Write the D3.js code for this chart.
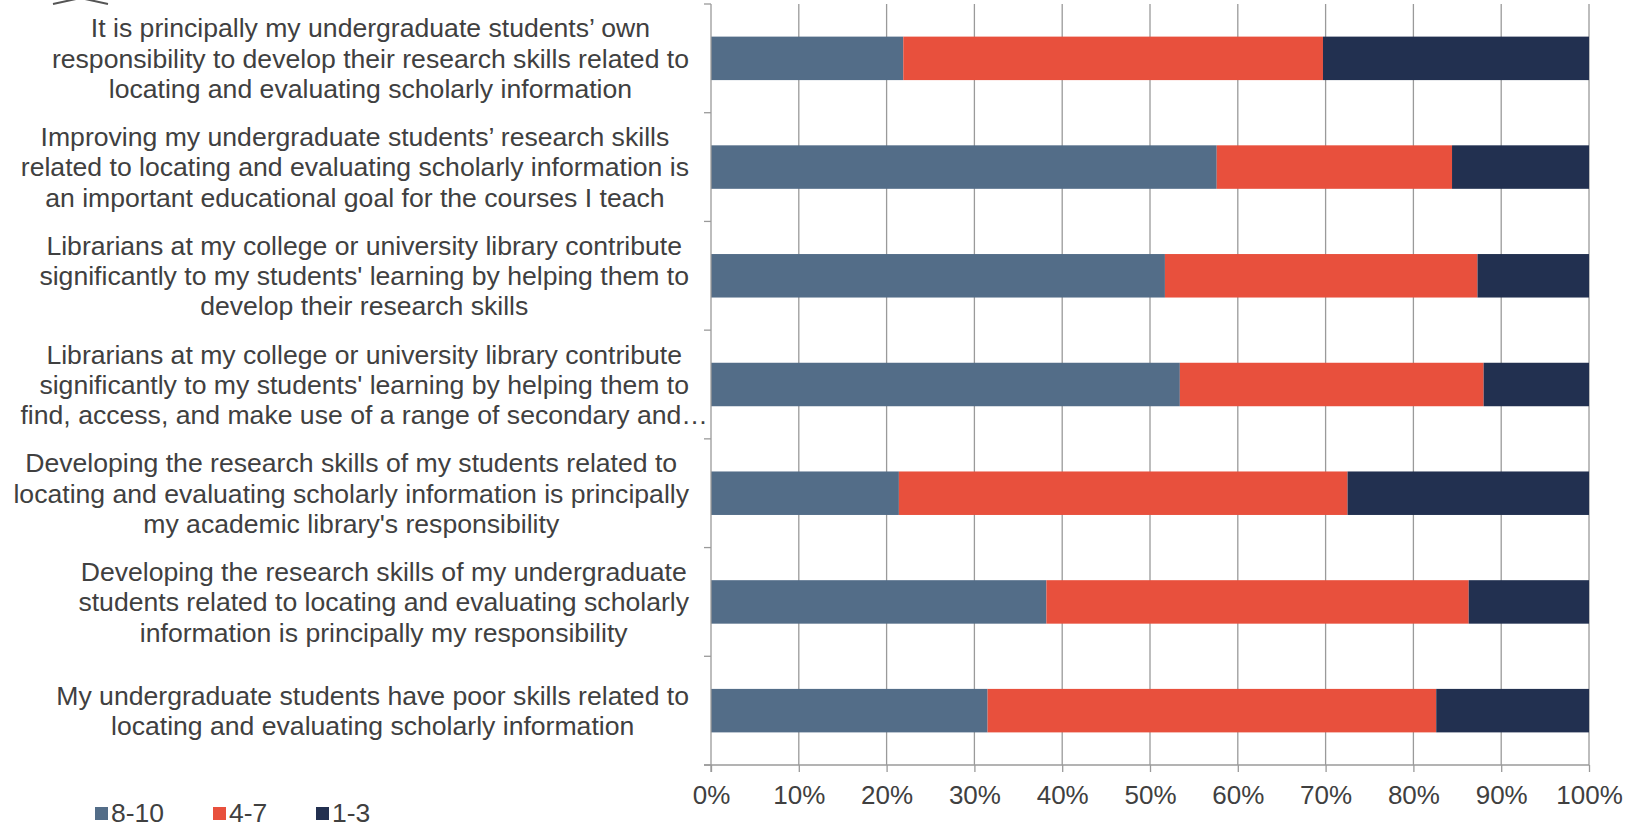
<!DOCTYPE html>
<meta charset="utf-8">
<script src="https://d3js.org/d3.v7.min.js"></script>
<style>
  body { margin: 0; background: #fff; }
  text { font-family: "Liberation Sans", Arial, sans-serif; fill: #404040; }
</style>
<div id="my_dataviz"></div>
<script>
// statements, each one wrapped into lines as in the original chart
var statements = [
  ["It is principally my undergraduate students\u2019 own",
   "responsibility to develop their research skills related to",
   "locating and evaluating scholarly information"],
  ["Improving my undergraduate students\u2019 research skills",
   "related to locating and evaluating scholarly information is",
   "an important educational goal for the courses I teach"],
  ["Librarians at my college or university library contribute",
   "significantly to my students' learning by helping them to",
   "develop their research skills"],
  ["Librarians at my college or university library contribute",
   "significantly to my students' learning by helping them to",
   "find, access, and make use of a range of secondary and\u2026"],
  ["Developing the research skills of my students related to",
   "locating and evaluating scholarly information is principally",
   "my academic library's responsibility"],
  ["Developing the research skills of my undergraduate",
   "students related to locating and evaluating scholarly",
   "information is principally my responsibility"],
  ["My undergraduate students have poor skills related to",
   "locating and evaluating scholarly information"]
];
var groups = ["8-10", "4-7", "1-3"];
var colors = ["#536d88", "#e8503d", "#223050"];
// share of answers (percent) per statement
var high = [21.9, 57.6, 51.7, 53.4, 21.4, 38.2, 31.5];
var mid  = [47.8, 26.8, 35.6, 34.6, 51.1, 48.1, 51.1];
var low  = [30.3, 15.6, 12.7, 12.0, 27.5, 13.7, 17.4];
var xTicks = [0, 10, 20, 30, 40, 50, 60, 70, 80, 90, 100];

var W = 1636, H = 826;
var plotLeft = 711, plotRight = 1589, plotTop = 4, plotBottom = 765;

var svg = d3.select("#my_dataviz")
  .append("svg")
    .attr("width", W)
    .attr("height", H);

var rows = statements.map(function(s, i) {
  return { idx: i, "8-10": high[i], "4-7": mid[i], "1-3": low[i] };
});
var stacked = d3.stack().keys(groups)(rows);

var x = d3.scaleLinear().domain([0, 100]).range([plotLeft, plotRight]);
var y = d3.scaleBand()
  .domain(d3.range(statements.length))
  .range([plotTop, plotBottom])
  .paddingInner(0.6)
  .paddingOuter(0.3);
var yEdge = d3.scaleLinear().domain([0, statements.length]).range([plotTop, plotBottom]);

// vertical gridlines
svg.append("g")
  .selectAll("line")
  .data(xTicks.slice(1))
  .enter()
  .append("line")
    .attr("x1", function(d) { return x(d); })
    .attr("x2", function(d) { return x(d); })
    .attr("y1", plotTop)
    .attr("y2", plotBottom)
    .attr("stroke", "#9a9a9a")
    .attr("stroke-width", 1.3);

// bars
svg.append("g")
  .selectAll("g")
  .data(stacked)
  .enter()
  .append("g")
    .attr("fill", function(d, i) { return colors[i]; })
  .selectAll("rect")
  .data(function(d) { return d; })
  .enter()
  .append("rect")
    .attr("x", function(d) { return x(d[0]); })
    .attr("width", function(d) { return x(d[1]) - x(d[0]); })
    .attr("y", function(d) { return y(d.data.idx); })
    .attr("height", y.bandwidth());

// left axis line with category separators
svg.append("line")
  .attr("x1", plotLeft).attr("x2", plotLeft)
  .attr("y1", plotTop).attr("y2", plotBottom + 7)
  .attr("stroke", "#9a9a9a").attr("stroke-width", 1.3);
svg.append("g")
  .selectAll("line")
  .data(d3.range(statements.length + 1))
  .enter()
  .append("line")
    .attr("x1", plotLeft - 7)
    .attr("x2", plotLeft)
    .attr("y1", function(d) { return yEdge(d); })
    .attr("y2", function(d) { return yEdge(d); })
    .attr("stroke", "#9a9a9a")
    .attr("stroke-width", 1.3);

// bottom axis
var xAxis = svg.append("g")
  .attr("transform", "translate(0," + plotBottom + ")")
  .call(d3.axisBottom(x)
    .tickValues(xTicks)
    .tickSize(7)
    .tickPadding(14)
    .tickFormat(function(d) { return d + "%"; }));
xAxis.select(".domain")
  .attr("d", "M" + (plotLeft - 7) + ",0H" + plotRight)
  .attr("stroke", "#9a9a9a")
  .attr("stroke-width", 1.3);
xAxis.selectAll(".tick line").attr("stroke", "#9a9a9a").attr("stroke-width", 1.3);
xAxis.selectAll(".tick text")
  .attr("font-family", "Liberation Sans, Arial, sans-serif")
  .attr("font-size", 26)
  .attr("fill", "#404040");

// category labels, centred in a block that is right aligned at the axis
var labelRight = 689, lineH = 30.3;
var labels = svg.append("g")
  .selectAll("text")
  .data(statements)
  .enter()
  .append("text")
    .attr("font-size", 26.6)
    .attr("text-anchor", "middle");
labels.each(function(lines, i) {
  var t = d3.select(this);
  var cy = y(i) + y.bandwidth() / 2;
  lines.forEach(function(line, k) {
    t.append("tspan")
      .attr("y", cy + (k - (lines.length - 1) / 2) * lineH)
      .attr("dy", "0.35em")
      .text(line);
  });
  var maxW = 0;
  t.selectAll("tspan").each(function() {
    var txt = d3.select(this).text();
    if (txt.slice(-1) !== "\u2026") maxW = Math.max(maxW, this.getComputedTextLength());
  });
  t.selectAll("tspan").attr("x", labelRight - maxW / 2);
});

// legend
var legendX = [95, 213, 316];
var legend = svg.append("g")
  .selectAll("g")
  .data(groups)
  .enter()
  .append("g")
    .attr("transform", function(d, i) { return "translate(" + legendX[i] + ",813)"; });
legend.append("rect")
  .attr("x", 0).attr("y", -6)
  .attr("width", 13).attr("height", 13)
  .attr("fill", function(d, i) { return colors[i]; });
legend.append("text")
  .attr("x", 16)
  .attr("dy", "0.35em")
  .attr("font-size", 26.5)
  .text(function(d) { return d; });

// clipped mark at the top left corner
svg.append("path")
  .attr("d", "M53,4L76,-1M85,-1L108,4")
  .attr("fill", "none")
  .attr("stroke", "#555")
  .attr("stroke-width", 2);
</script>
